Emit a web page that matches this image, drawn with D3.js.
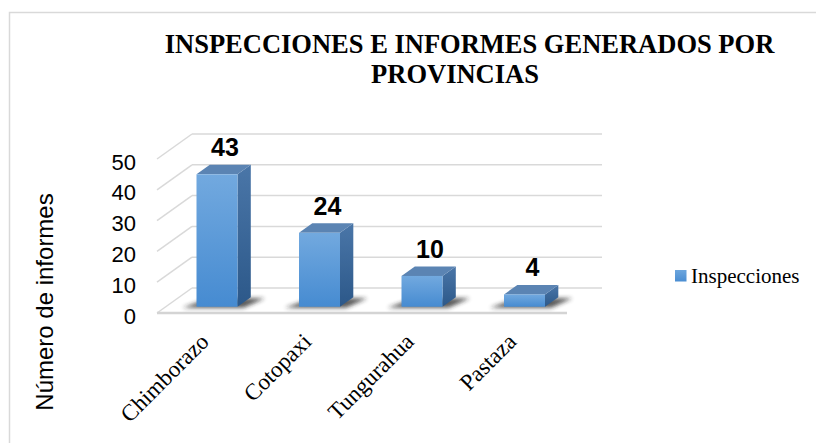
<!DOCTYPE html>
<html>
<head>
<meta charset="utf-8">
<script src="https://cdn.jsdelivr.net/npm/d3@7"></script>
<style>
  body { margin: 0; background: #fff; }
  svg { display: block; }
</style>
</head>
<body>
<div class="chart"></div>
<script>
var provincias = ["Chimborazo", "Cotopaxi", "Tungurahua", "Pastaza"];
var inspecciones = [43, 24, 10, 4];
var ticks = [0, 10, 20, 30, 40, 50];
var serie = "Inspecciones";

var w = 816;
var h = 443;

// profundidad del grafico 3D
var depthX = 35;
var depthY = -25;
var barFront = 0.25;
var barBack = 0.63;

var scaleX = d3.scaleBand()
    .domain(provincias)
    .range([157, 567])
    .paddingInner(0.6)
    .paddingOuter(0.3);

var scaleY = d3.scaleLinear()
    .domain([0, 50])
    .range([313, 159]);

const svg = d3.select(".chart")
    .append("svg")
    .attr("width", w)
    .attr("height", h);

var defs = svg.append("defs");

var gFront = defs.append("linearGradient").attr("id", "front")
    .attr("x1", 0).attr("y1", 0).attr("x2", 0).attr("y2", 1);
gFront.append("stop").attr("offset", "0%").attr("stop-color", "#72a9df");
gFront.append("stop").attr("offset", "100%").attr("stop-color", "#468bd1");

var gSide = defs.append("linearGradient").attr("id", "side")
    .attr("x1", 0).attr("y1", 0).attr("x2", 0).attr("y2", 1);
gSide.append("stop").attr("offset", "0%").attr("stop-color", "#4a76a8");
gSide.append("stop").attr("offset", "100%").attr("stop-color", "#2c5889");

var gLegend = defs.append("linearGradient").attr("id", "leg")
    .attr("x1", 0).attr("y1", 0).attr("x2", 0).attr("y2", 1);
gLegend.append("stop").attr("offset", "0%").attr("stop-color", "#6da6dd");
gLegend.append("stop").attr("offset", "100%").attr("stop-color", "#4a8dd2");

defs.append("filter").attr("id", "blur")
    .attr("x", "-50%").attr("y", "-50%").attr("width", "200%").attr("height", "200%")
    .append("feGaussianBlur").attr("stdDeviation", 2);

// borde del area del grafico
svg.append("rect")
    .attr("x", 9.5)
    .attr("y", 12.5)
    .attr("width", 900)
    .attr("height", 600)
    .attr("fill", "none")
    .attr("stroke", "#d9d9d9")
    .attr("stroke-width", 1.5);

// titulo
svg.append("text")
    .attr("x", 469.5)
    .attr("y", 53)
    .attr("text-anchor", "middle")
    .attr("font-family", "'Liberation Serif', 'Times New Roman', serif")
    .attr("font-weight", "bold")
    .attr("font-size", 26.5)
    .text("INSPECCIONES E INFORMES GENERADOS POR");

svg.append("text")
    .attr("x", 455)
    .attr("y", 83)
    .attr("text-anchor", "middle")
    .attr("font-family", "'Liberation Serif', 'Times New Roman', serif")
    .attr("font-weight", "bold")
    .attr("font-size", 26.5)
    .text("PROVINCIAS");

// rejilla: pared lateral y pared del fondo
var x0 = scaleX.range()[0];
var x1 = scaleX.range()[1];
var grid = svg.append("g").attr("class", "grid");

grid.selectAll(".side")
    .data(ticks)
    .enter()
    .append("line")
    .attr("x1", x0)
    .attr("y1", d => scaleY(d))
    .attr("x2", x0 + depthX)
    .attr("y2", d => scaleY(d) + depthY)
    .attr("stroke", "#d9d9d9")
    .attr("stroke-width", 1.5);

grid.selectAll(".back")
    .data(ticks)
    .enter()
    .append("line")
    .attr("x1", x0 + depthX)
    .attr("y1", d => scaleY(d) + depthY)
    .attr("x2", x1 + depthX)
    .attr("y2", d => scaleY(d) + depthY)
    .attr("stroke", "#d9d9d9")
    .attr("stroke-width", 1.5);

// suelo
grid.append("line")
    .attr("x1", x0)
    .attr("y1", scaleY(0))
    .attr("x2", x1)
    .attr("y2", scaleY(0))
    .attr("stroke", "#d4d4d4")
    .attr("stroke-width", 2.5);

// eje Y
var axisY = d3.axisLeft()
    .scale(scaleY)
    .tickValues(ticks)
    .tickSize(0)
    .tickPadding(21);

svg.append("g")
    .attr("class", "axis")
    .attr("transform", "translate(" + x0 + ", 3)")
    .call(axisY)
    .call(g => g.select(".domain").remove())
    .selectAll("text")
    .attr("font-family", "'Liberation Sans', Arial, sans-serif")
    .attr("font-size", 22)
    .attr("fill", "#000");

svg.append("text")
    .attr("transform", "translate(53, 302) rotate(-90)")
    .attr("text-anchor", "middle")
    .attr("font-family", "'Liberation Sans', Arial, sans-serif")
    .attr("font-size", 24)
    .attr("fill", "#000")
    .text("Número de informes");

// barras 3D
var data = provincias.map((p, i) => ({ p: p, v: inspecciones[i] }));
var bw = scaleX.bandwidth();
var fdx = depthX * barFront, fdy = depthY * barFront;
var bdx = depthX * (barBack - barFront), bdy = depthY * (barBack - barFront);

var bars = svg.selectAll(".bar")
    .data(data)
    .enter()
    .append("g")
    .attr("class", "bar");

bars.append("polygon")
    .attr("points", function(d) {
        var l = scaleX(d.p) + fdx, r = l + bw, b = scaleY(0) + fdy;
        return [[l - 14, b + 1], [r + 6, b + 1], [r + bdx + 14, b + bdy + 1], [l + bdx, b + bdy + 1]].join(" ");
    })
    .attr("fill", "#222")
    .attr("opacity", 0.75)
    .attr("filter", "url(#blur)");

bars.append("polygon")
    .attr("points", function(d) {
        var r = scaleX(d.p) + fdx + bw, t = scaleY(d.v) + fdy, b = scaleY(0) + fdy;
        return [[r, t], [r + bdx, t + bdy], [r + bdx, b + bdy], [r, b]].join(" ");
    })
    .attr("fill", "url(#side)");

bars.append("polygon")
    .attr("points", function(d) {
        var l = scaleX(d.p) + fdx, r = l + bw, t = scaleY(d.v) + fdy;
        return [[l, t], [r, t], [r + bdx, t + bdy], [l + bdx, t + bdy]].join(" ");
    })
    .attr("fill", "#5b84b3");

bars.append("rect")
    .attr("x", d => scaleX(d.p) + fdx)
    .attr("y", d => scaleY(d.v) + fdy)
    .attr("width", bw)
    .attr("height", d => scaleY(0) - scaleY(d.v))
    .attr("fill", "url(#front)");

bars.append("text")
    .attr("x", d => scaleX(d.p) + fdx + bw / 2 + 8)
    .attr("y", d => scaleY(d.v) + fdy + bdy - 8.5)
    .attr("text-anchor", "middle")
    .attr("font-family", "'Liberation Sans', Arial, sans-serif")
    .attr("font-weight", "bold")
    .attr("font-size", 25)
    .attr("fill", "#000")
    .text(d => d.v);

// etiquetas de categoria
svg.selectAll(".cat")
    .data(provincias)
    .enter()
    .append("text")
    .attr("class", "cat")
    .attr("transform", d => "translate(" + (scaleX(d) + bw / 2 + 2) + ", 343) rotate(-45)")
    .attr("text-anchor", "end")
    .attr("font-family", "'Liberation Serif', 'Times New Roman', serif")
    .attr("font-size", 23)
    .attr("fill", "#000")
    .text(d => d);

// leyenda
svg.append("rect")
    .attr("x", 675)
    .attr("y", 270)
    .attr("width", 11.5)
    .attr("height", 11.5)
    .attr("fill", "url(#leg)");

svg.append("text")
    .attr("x", 691)
    .attr("y", 283)
    .attr("font-family", "'Liberation Serif', 'Times New Roman', serif")
    .attr("font-size", 21)
    .attr("fill", "#000")
    .text(serie);
</script>
</body>
</html>
